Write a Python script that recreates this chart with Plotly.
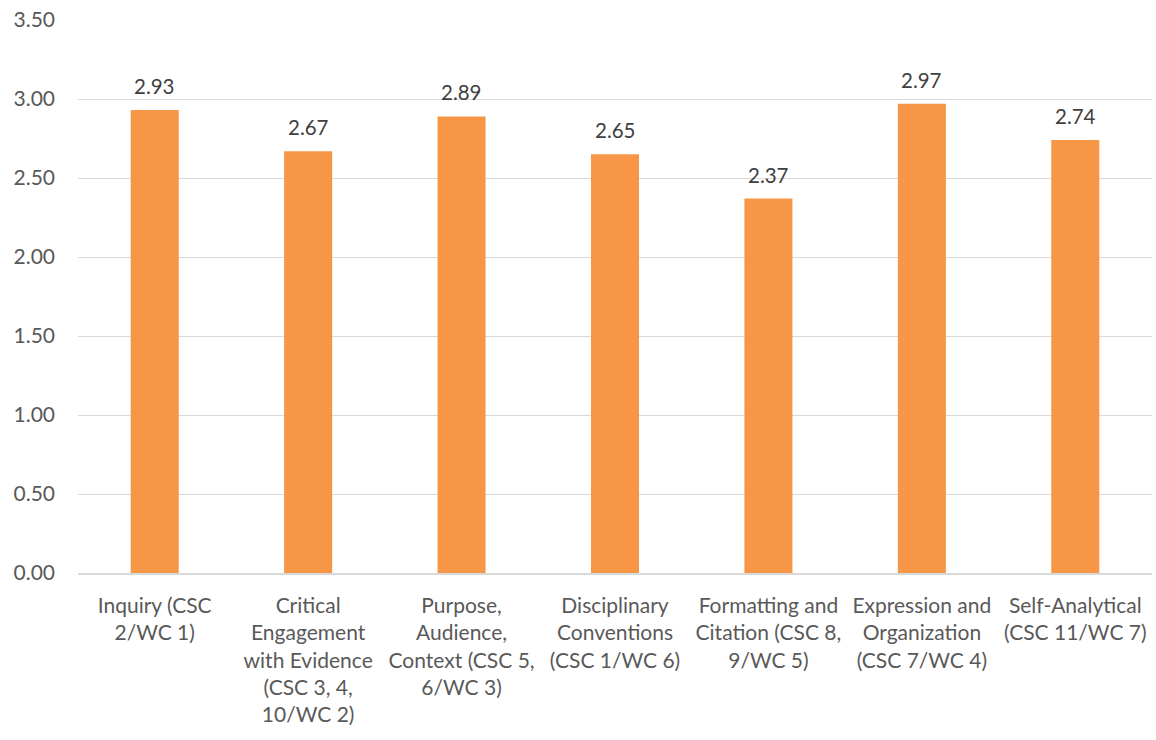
import plotly.graph_objects as go

categories = [
    "Inquiry (CSC<br>2/WC 1)",
    "Critical<br>Engagement<br>with Evidence<br>(CSC 3, 4,<br>10/WC 2)",
    "Purpose,<br>Audience,<br>Context (CSC 5,<br>6/WC 3)",
    "Disciplinary<br>Conventions<br>(CSC 1/WC 6)",
    "Formatting and<br>Citation (CSC 8,<br>9/WC 5)",
    "Expression and<br>Organization<br>(CSC 7/WC 4)",
    "Self-Analytical<br>(CSC 11/WC 7)",
]
scores = [2.93, 2.67, 2.89, 2.65, 2.37, 2.97, 2.74]
y_ticks = [0, 0.5, 1.0, 1.5, 2.0, 2.5, 3.0, 3.5]

FONT = "Lato"
BAR = "#F79646"

fig = go.Figure(
    go.Bar(
        x=list(range(len(categories))),
        y=scores,
        marker=dict(color=BAR, line=dict(width=0)),
        width=0.313,
    )
)

for i, v in enumerate(scores):
    fig.add_annotation(
        x=i, y=v, text=f"{v:.2f}", showarrow=False,
        yanchor="bottom", yshift=10,
        font=dict(family=FONT, size=20.5, color="#404040"),
    )

fig.update_layout(
    width=1156, height=740,
    margin=dict(l=78, r=4, t=20, b=167),
    plot_bgcolor="white", paper_bgcolor="white",
    showlegend=False,
    font=dict(family=FONT, size=21, color="#595959"),
    xaxis=dict(
        tickmode="array",
        tickvals=list(range(len(categories))),
        ticktext=categories,
        range=[-0.5, len(categories) - 0.5],
        showgrid=False, zeroline=False,
        showline=True, linecolor="#D9D9D9", linewidth=1.5,
        ticks="", ticklabelstandoff=13,
        tickfont=dict(family=FONT, size=21, color="#595959"),
    ),
    yaxis=dict(
        range=[0, 3.5],
        tickmode="array",
        tickvals=y_ticks,
        ticktext=[f"{t:.2f}" for t in y_ticks],
        showgrid=True, gridcolor="#D9D9D9", gridwidth=1,
        zeroline=False, showline=False,
        ticks="", ticklabelstandoff=22,
        tickfont=dict(family=FONT, size=21, color="#595959"),
    ),
)

fig.write_html("out.html")
